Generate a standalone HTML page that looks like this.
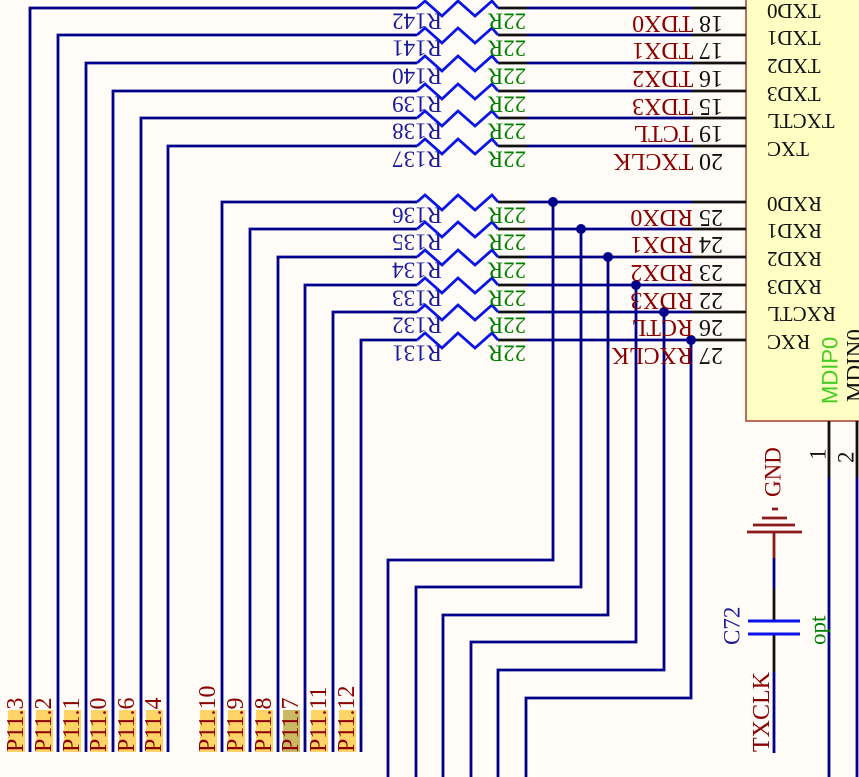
<!DOCTYPE html>
<html><head><meta charset="utf-8"><style>
html,body{margin:0;padding:0;background:#fffbf6;}
svg{display:block;font-family:"Liberation Serif",serif;font-size:23px;}
.w{stroke:#00008b;stroke-width:2.8;fill:none;}
.z{stroke:#0a14e6;stroke-width:2.8;fill:none;}
.k{stroke:#111;stroke-width:2.8;fill:none;}
.rl{fill:#1a1a9a;}
.gv{fill:#008000;}
.rd{fill:#8b0000;}
.bk{fill:#111;}
.cn{font-size:21px;}
</style></head><body>
<svg width="859" height="777" viewBox="0 0 859 777" xmlns="http://www.w3.org/2000/svg">
<rect width="859" height="777" fill="#fffbf6"/>
<rect x="746" y="-5" width="120" height="426" fill="#ffffc4" stroke="#a04030" stroke-width="1.5"/>

<g>
<path class="w" d="M30 752V8H417 M527 8H692 M58 752V35H417 M527 35H692 M86 752V63H417 M527 63H692 M113 752V91H417 M527 91H692 M141 752V118H417 M527 118H692 M168 752V146H417 M527 146H692"/>
<path class="k" d="M498 8H527M692 8H746 M498 35H527M692 35H746 M498 63H527M692 63H746 M498 91H527M692 91H746 M498 118H527M692 118H746 M498 146H527M692 146H746"/>
<path class="z" d="M417 8L425 1L442 16L458 1L475 16L492 1L498 8 M417 35L425 28L442 43L458 28L475 43L492 28L498 35 M417 63L425 56L442 71L458 56L475 71L492 56L498 63 M417 91L425 84L442 99L458 84L475 99L492 84L498 91 M417 118L425 111L442 126L458 111L475 126L492 111L498 118 M417 146L425 139L442 154L458 139L475 154L492 139L498 146"/>
</g>
<g>
<path class="w" d="M222 752V202H417 M527 202H692 M250 752V229H417 M527 229H692 M278 752V257H417 M527 257H692 M305 752V285H417 M527 285H692 M333 752V312H417 M527 312H692 M361 752V340H417 M527 340H692"/>
<path class="k" d="M498 202H527M692 202H746 M498 229H527M692 229H746 M498 257H527M692 257H746 M498 285H527M692 285H746 M498 312H527M692 312H746 M498 340H527M692 340H746"/>
<path class="z" d="M417 202L425 195L442 210L458 195L475 210L492 195L498 202 M417 229L425 222L442 237L458 222L475 237L492 222L498 229 M417 257L425 250L442 265L458 250L475 265L492 250L498 257 M417 285L425 278L442 293L458 278L475 293L492 278L498 285 M417 312L425 305L442 320L458 305L475 320L492 305L498 312 M417 340L425 333L442 348L458 333L475 348L492 333L498 340"/>
<path class="w" d="M553 202V560H388V777 M581 229V587H416V777 M608 257V615H443V777 M636 285V642H471V777 M664 312V670H498V777 M691 340V698H526V777"/>
<g fill="#00008b"><circle cx="553" cy="202" r="5"/><circle cx="581" cy="229" r="5"/><circle cx="608" cy="257" r="5"/><circle cx="636" cy="285" r="5"/><circle cx="664" cy="312" r="5"/><circle cx="691" cy="340" r="5"/></g>
</g>

<g text-anchor="middle" dominant-baseline="central">
<text class="rl" x="417" y="21" transform="rotate(180 417 21)">R142</text>
<text class="rl" x="417" y="48" transform="rotate(180 417 48)">R141</text>
<text class="rl" x="417" y="76" transform="rotate(180 417 76)">R140</text>
<text class="rl" x="417" y="104" transform="rotate(180 417 104)">R139</text>
<text class="rl" x="417" y="131" transform="rotate(180 417 131)">R138</text>
<text class="rl" x="417" y="159" transform="rotate(180 417 159)">R137</text>
<text class="rl" x="417" y="215" transform="rotate(180 417 215)">R136</text>
<text class="rl" x="417" y="242" transform="rotate(180 417 242)">R135</text>
<text class="rl" x="417" y="270" transform="rotate(180 417 270)">R134</text>
<text class="rl" x="417" y="298" transform="rotate(180 417 298)">R133</text>
<text class="rl" x="417" y="325" transform="rotate(180 417 325)">R132</text>
<text class="rl" x="417" y="353" transform="rotate(180 417 353)">R131</text>
<text class="gv" x="507" y="21" transform="rotate(180 507 21)">22R</text>
<text class="gv" x="507" y="48" transform="rotate(180 507 48)">22R</text>
<text class="gv" x="507" y="76" transform="rotate(180 507 76)">22R</text>
<text class="gv" x="507" y="104" transform="rotate(180 507 104)">22R</text>
<text class="gv" x="507" y="131" transform="rotate(180 507 131)">22R</text>
<text class="gv" x="507" y="159" transform="rotate(180 507 159)">22R</text>
<text class="gv" x="507" y="215" transform="rotate(180 507 215)">22R</text>
<text class="gv" x="507" y="242" transform="rotate(180 507 242)">22R</text>
<text class="gv" x="507" y="270" transform="rotate(180 507 270)">22R</text>
<text class="gv" x="507" y="298" transform="rotate(180 507 298)">22R</text>
<text class="gv" x="507" y="325" transform="rotate(180 507 325)">22R</text>
<text class="gv" x="507" y="353" transform="rotate(180 507 353)">22R</text>
</g>
<g text-anchor="start" dominant-baseline="central" font-size="24">
<text x="723" y="23" transform="rotate(180 723 23)"><tspan class="bk">18 </tspan><tspan class="rd">TDX0</tspan></text>
<text x="723" y="50" transform="rotate(180 723 50)"><tspan class="bk">17 </tspan><tspan class="rd">TDX1</tspan></text>
<text x="723" y="78" transform="rotate(180 723 78)"><tspan class="bk">16 </tspan><tspan class="rd">TDX2</tspan></text>
<text x="723" y="106" transform="rotate(180 723 106)"><tspan class="bk">15 </tspan><tspan class="rd">TDX3</tspan></text>
<text x="723" y="133" transform="rotate(180 723 133)"><tspan class="bk">19 </tspan><tspan class="rd">TCTL</tspan></text>
<text x="723" y="161" transform="rotate(180 723 161)"><tspan class="bk">20 </tspan><tspan class="rd">TXCLK</tspan></text>
<text x="723" y="217" transform="rotate(180 723 217)"><tspan class="bk">25 </tspan><tspan class="rd">RDX0</tspan></text>
<text x="723" y="244" transform="rotate(180 723 244)"><tspan class="bk">24 </tspan><tspan class="rd">RDX1</tspan></text>
<text x="723" y="272" transform="rotate(180 723 272)"><tspan class="bk">23 </tspan><tspan class="rd">RDX2</tspan></text>
<text x="723" y="300" transform="rotate(180 723 300)"><tspan class="bk">22 </tspan><tspan class="rd">RDX3</tspan></text>
<text x="723" y="327" transform="rotate(180 723 327)"><tspan class="bk">26 </tspan><tspan class="rd">RCTL</tspan></text>
<text x="723" y="355" transform="rotate(180 723 355)"><tspan class="bk">27 </tspan><tspan class="rd">RXCLK</tspan></text>
</g>
<g text-anchor="end" dominant-baseline="central" class="bk cn">
<text x="767" y="11" transform="rotate(180 767 11)">TXD0</text>
<text x="767" y="38" transform="rotate(180 767 38)">TXD1</text>
<text x="767" y="66" transform="rotate(180 767 66)">TXD2</text>
<text x="767" y="94" transform="rotate(180 767 94)">TXD3</text>
<text x="767" y="121" transform="rotate(180 767 121)">TXCTL</text>
<text x="767" y="149" transform="rotate(180 767 149)">TXC</text>
<text x="767" y="204" transform="rotate(180 767 204)">RXD0</text>
<text x="767" y="231" transform="rotate(180 767 231)">RXD1</text>
<text x="767" y="259" transform="rotate(180 767 259)">RXD2</text>
<text x="767" y="287" transform="rotate(180 767 287)">RXD3</text>
<text x="767" y="314" transform="rotate(180 767 314)">RXCTL</text>
<text x="767" y="342" transform="rotate(180 767 342)">RXC</text>
</g>
<text x="830" y="404" transform="rotate(-90 830 404)" dominant-baseline="central" fill="#44cc22" font-family="Liberation Sans, sans-serif" font-size="22">MDIP0</text>
<text x="855" y="402" transform="rotate(-90 855 402)" dominant-baseline="central" class="bk">MDIN0</text>

<g fill="#ffd466">
<rect x="8" y="710" width="17" height="42"/><rect x="36" y="710" width="17" height="42"/><rect x="64" y="710" width="17" height="42"/><rect x="91" y="710" width="17" height="42"/><rect x="119" y="710" width="17" height="42"/><rect x="146" y="710" width="17" height="42"/>
<rect x="200" y="710" width="17" height="42"/><rect x="228" y="710" width="17" height="42"/><rect x="256" y="710" width="17" height="42"/><rect x="283" y="710" width="17" height="42" fill="#cbb862"/><rect x="311" y="710" width="17" height="42"/><rect x="339" y="710" width="17" height="42"/>
</g>
<g class="rd" dominant-baseline="central" font-size="24">
<text x="16" y="752" transform="rotate(-90 16 752)">P11.3</text>
<text x="44" y="752" transform="rotate(-90 44 752)">P11.2</text>
<text x="72" y="752" transform="rotate(-90 72 752)">P11.1</text>
<text x="99" y="752" transform="rotate(-90 99 752)">P11.0</text>
<text x="127" y="752" transform="rotate(-90 127 752)">P11.6</text>
<text x="154" y="752" transform="rotate(-90 154 752)">P11.4</text>
<text x="208" y="752" transform="rotate(-90 208 752)">P11.10</text>
<text x="236" y="752" transform="rotate(-90 236 752)">P11.9</text>
<text x="264" y="752" transform="rotate(-90 264 752)">P11.8</text>
<text x="291" y="752" transform="rotate(-90 291 752)">P11.7</text>
<text x="319" y="752" transform="rotate(-90 319 752)">P11.11</text>
<text x="347" y="752" transform="rotate(-90 347 752)">P11.12</text>
</g>

<path class="k" d="M829 421V477 M857 421V477"/>
<path class="w" d="M829 477V777 M857 477V777"/>
<text x="818" y="460" transform="rotate(-90 818 460)" dominant-baseline="central" class="bk">1</text>
<text x="846" y="463" transform="rotate(-90 846 463)" dominant-baseline="central" class="bk">2</text>

<path d="M747 532H802 M753 525H795 M762 518H787 M772 509H778 M774 532V558" stroke="#8b1a1a" stroke-width="2.8" fill="none"/>
<path class="w" d="M774 558V588 M774 672V753"/>
<path class="k" d="M774 588V621 M774 634V672"/>
<path d="M748 621H800 M748 634H800" stroke="#0a14e6" stroke-width="3" fill="none"/>
<text x="773" y="497" transform="rotate(-90 773 497)" dominant-baseline="central" class="rd">GND</text>
<text x="732" y="645" transform="rotate(-90 732 645)" dominant-baseline="central" fill="#1a1a9a">C72</text>
<text x="818" y="645" transform="rotate(-90 818 645)" dominant-baseline="central" class="gv">opt</text>
<text x="762" y="752" transform="rotate(-90 762 752)" dominant-baseline="central" class="rd" font-size="24">TXCLK</text>
</svg>
</body></html>
